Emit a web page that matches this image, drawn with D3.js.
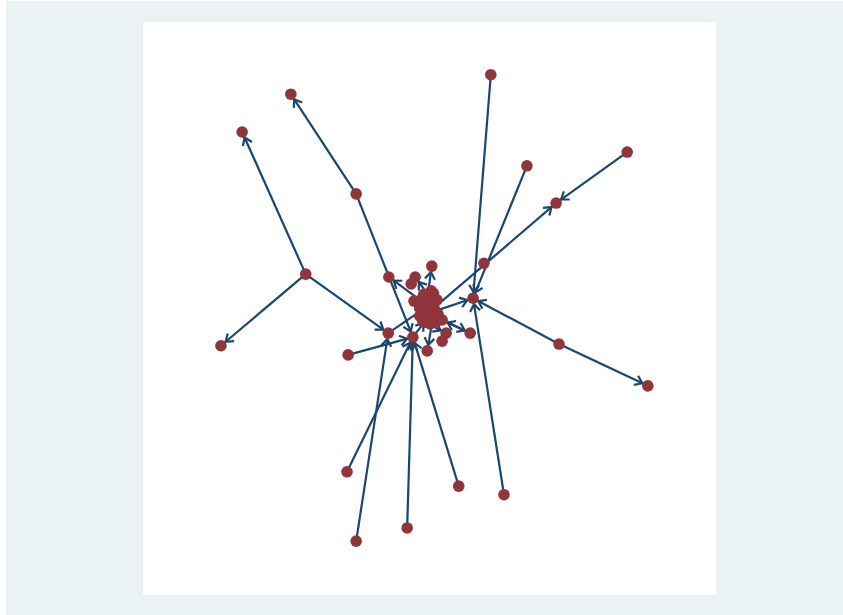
<!DOCTYPE html>
<html>
<head>
<meta charset="utf-8">
<script src="https://cdn.jsdelivr.net/npm/d3@7"></script>
<style>
  html, body { margin: 0; padding: 0; background: #ffffff; }
  svg { display: block; }
</style>
</head>
<body>
<svg id="chart" width="843" height="615"></svg>
<script>
// Node layout coordinates (layout units, 0-100 on both axes)
const nodeIds = ["a","b","c","d","e","f","g","h","i","j","k","l1","l2","m","n",
  "c1","c2","c3","c4","c5","c6","c7","c8","c9",
  "c10","c11","c12","c13","c14","c15","c16","c17","c18","c19","c20","c21",
  "r1","r2","r3","o","p","q","s","t","u","v","w","x","y","z","aa","ab"];
const nodeX = [60.7,25.8,17.3,84.5,67.0,37.2,72.1,59.5,28.4,42.9,50.4,47.5,46.8,57.6,47.3,
  49.7,50.4,49.0,50.8,48.9,49.9,50.6,49.2,50.1,
  48.5,51.3,48.3,51.5,49.7,51.1,49.6,50.3,49.0,48.3,50.7,48.8,
  52.2,52.9,52.2,42.8,47.1,57.1,49.6,35.8,13.6,72.6,88.1,35.6,55.1,63.0,46.1,37.2];
const nodeY = [90.8,87.4,80.8,77.3,74.9,70.0,68.4,57.9,56.0,55.5,57.4,55.5,54.3,51.8,51.3,
  52.4,51.5,51.0,50.1,49.6,49.2,48.3,47.6,47.3,
  51.5,51.5,50.1,49.0,50.4,47.6,48.3,53.1,52.5,48.7,52.6,47.9,
  48.0,45.7,44.3,45.7,45.0,45.7,42.6,41.9,43.5,43.8,36.5,21.5,19.0,17.5,11.7,9.4];

// Directed ties: edgeFrom[i] -> edgeTo[i]
const edgeFrom = ["a","e","d","c4","i","i","i","f","f","v","v","z","y","x","aa","ab","t",
  "c1","c2","c3","c5","c6","q","c8","c6","o","p","c7"];
const edgeTo   = ["m","m","g","g","c","u","o","b","p","w","m","m","p","p","p","o","p",
  "k","l1","j","n","q","r1","r2","m","c14","c16","s"];

const W = 843, H = 615;
const plot = { x0: 143, y0: 22, x1: 716, y1: 595 };

const svg = d3.select("#chart");

// outer graph region
svg.append("rect")
  .attr("x", 6).attr("y", 1)
  .attr("width", W - 6).attr("height", H - 1)
  .attr("fill", "#eaf2f3");

// plot region
svg.append("rect")
  .attr("x", plot.x0).attr("y", plot.y0)
  .attr("width", plot.x1 - plot.x0).attr("height", plot.y1 - plot.y0)
  .attr("fill", "#ffffff");

const x = d3.scaleLinear().domain([0, 100]).range([plot.x0, plot.x1]);
const y = d3.scaleLinear().domain([0, 100]).range([plot.y1, plot.y0]);

const nodes = nodeIds.map((id, i) => ({ id, x: nodeX[i], y: nodeY[i] }));
const byId = new Map(nodes.map(n => [n.id, n]));
const edges = edgeFrom.map((s, i) => ({ source: byId.get(s), target: byId.get(edgeTo[i]) }));

const nodeR = 5.8;
const edgeColor = "#1a476f";
const nodeColor = "#90353b";

// open chevron arrowhead, tip placed at the rim of the target marker
svg.append("defs").append("marker")
  .attr("id", "arrow")
  .attr("markerUnits", "userSpaceOnUse")
  .attr("viewBox", "-10 -7 12 14")
  .attr("markerWidth", 12).attr("markerHeight", 14)
  .attr("refX", nodeR + 0.3).attr("refY", 0)
  .attr("orient", "auto")
  .append("path")
  .attr("d", "M-7,-5 L0,0 L-7,5")
  .attr("fill", "none")
  .attr("stroke", edgeColor)
  .attr("stroke-width", 2.2)
  .attr("stroke-linejoin", "miter");

svg.append("g")
  .selectAll("line")
  .data(edges)
  .join("line")
  .attr("x1", d => x(d.source.x))
  .attr("y1", d => y(d.source.y))
  .attr("x2", d => x(d.target.x))
  .attr("y2", d => y(d.target.y))
  .attr("stroke", edgeColor)
  .attr("stroke-width", 2.2)
  .attr("marker-end", "url(#arrow)");

svg.append("g")
  .selectAll("circle")
  .data(nodes)
  .join("circle")
  .attr("cx", d => x(d.x))
  .attr("cy", d => y(d.y))
  .attr("r", nodeR)
  .attr("fill", nodeColor);
</script>
</body>
</html>
